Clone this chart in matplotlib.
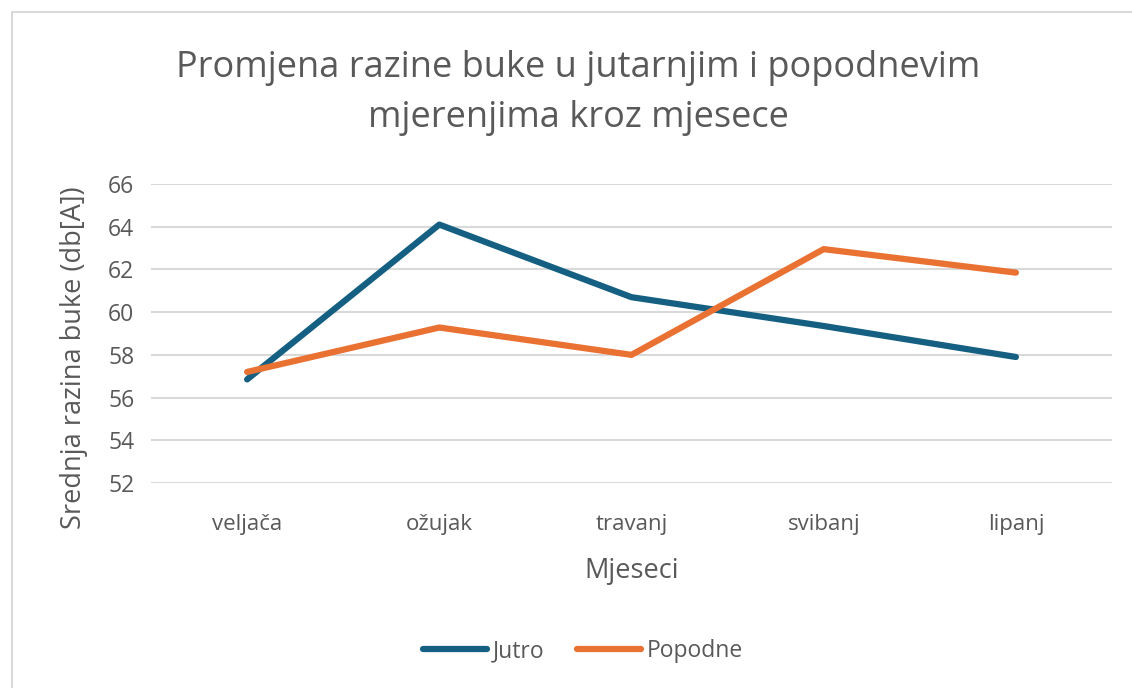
import matplotlib.pyplot as plt
from matplotlib.patches import Rectangle

plt.rcParams['font.family'] = ['Open Sans', 'DejaVu Sans']

mjeseci = ['veljača', 'ožujak', 'travanj', 'svibanj', 'lipanj']
jutro = [56.85, 64.1, 60.7, 59.35, 57.9]
popodne = [57.2, 59.28, 58.0, 62.95, 61.85]

siva = '#595959'

fig = plt.figure(figsize=(11.32, 6.88), dpi=100)
fig.patches.append(Rectangle((12 / 1132, -0.01), 1.2, 1 - 12 / 688 + 0.01,
                             transform=fig.transFigure, fill=False,
                             edgecolor='#d9d9d9', linewidth=1.5))
ax = fig.add_axes([151 / 1132, 1 - 483 / 688, (1112 - 151) / 1132, (483 - 184) / 688])

x = range(len(mjeseci))
ax.plot(x, jutro, color='#156082', linewidth=4.5, solid_capstyle='round', label='Jutro')
ax.plot(x, popodne, color='#e97132', linewidth=4.5, solid_capstyle='round', label='Popodne')

ax.set_xlim(-0.5, 4.5)
ax.set_ylim(52, 66)
ax.set_yticks(range(52, 67, 2))
ax.set_xticks(list(x))
ax.set_xticklabels(mjeseci)
ax.grid(axis='y', color='#d9d9d9', linewidth=1.5)
ax.set_axisbelow(True)
for s in ax.spines.values():
    s.set_visible(False)
ax.tick_params(length=0, labelsize=16.5, colors=siva, pad=12)
ax.tick_params(axis='x', labelsize=16, pad=22)

ax.set_ylabel('Srednja razina buke (db[A])', fontsize=19.5, color=siva)
ax.yaxis.set_label_coords(-0.066, 0.42)
ax.set_xlabel('Mjeseci', fontsize=19.5, color=siva, labelpad=16)

fig.text(578 / 1132, 1 - 93 / 688,
         'Promjena razine buke u jutarnjim i popodnevim\nmjerenjima kroz mjesece',
         ha='center', va='center', fontsize=26, color=siva, linespacing=1.55)

fig.legend(loc='center', bbox_to_anchor=(583 / 1132, 1 - 651 / 688), ncol=2,
           frameon=False, fontsize=16.5, labelcolor=siva, handlelength=2.8,
           columnspacing=1.4, handletextpad=0.25)

fig.savefig('out.png', dpi=100)
